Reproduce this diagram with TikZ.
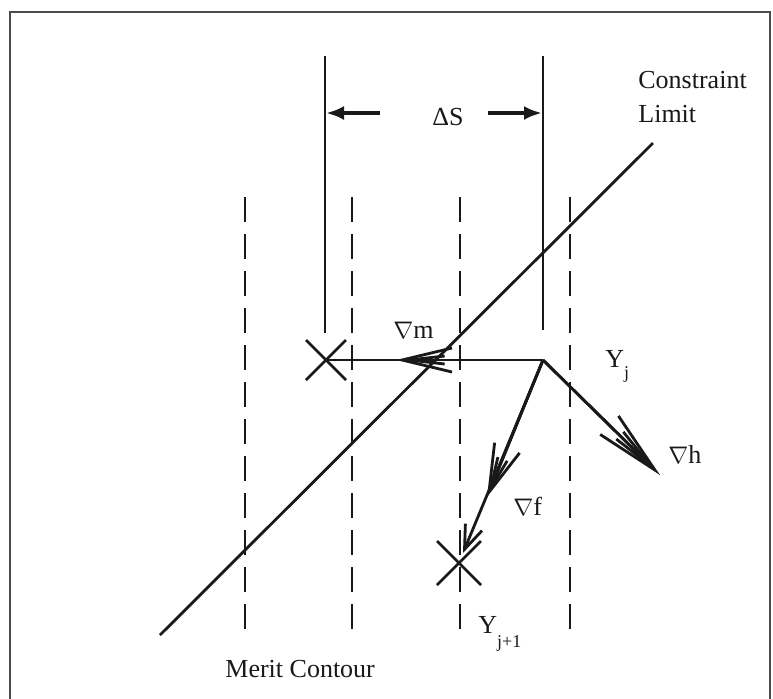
\documentclass[tikz,border=0pt]{standalone}
\usepackage{fontspec}
\setmainfont{Liberation Serif}
\usetikzlibrary{arrows.meta}
\definecolor{ink}{RGB}{25,25,25}
\definecolor{framec}{RGB}{75,75,75}
\begin{document}
\begin{tikzpicture}[x=0.5pt,y=-0.5pt,
  lbl/.style={font=\fontsize{13}{15}\selectfont, inner sep=0pt, text=ink},
  sublbl/.style={font=\fontsize{9}{11}\selectfont},
  mainline/.style={line width=1.4pt, draw=ink},
  contour/.style={line width=1.4pt, draw=ink, dash pattern=on 12.5pt off 6pt},
  xmark/.style={line width=1.4pt, draw=ink},
  dimarrow/.style={line width=2pt, draw=ink, -{Latex[length=9pt,width=7pt]}},
  frameline/.style={line width=1.1pt, draw=framec}
]
\useasboundingbox (0,0) rectangle (773,698);
\clip (0,0) rectangle (773,698);
\fill[white] (0,0) rectangle (773,698);
% frame
\draw[frameline] (10,720) -- (10,12) -- (770,12) -- (770,720);

% merit contours (dashed)
\foreach \x/\n in {245/ca,352/cb,460/cc,570/cd}{
  \coordinate (\n t) at (\x,197);
  \coordinate (\n b) at (\x,637);
  \draw[contour] (\n t) -- (\n b);
}

% key points
\coordinate (Yj) at (543,360);
\coordinate (Xm) at (326,360);
\coordinate (Xf) at (459,563);

% extension lines for Delta S
\coordinate (eLt) at (325,56);
\coordinate (eLb) at (325,333);
\coordinate (eRt) at (543,56);
\coordinate (eRb) at (543,330);
\draw[mainline] (eLt) -- (eLb);
\draw[mainline] (eRt) -- (eRb);

% dimension arrows
\coordinate (dLs) at (380,113);
\coordinate (dLe) at (326,113);
\coordinate (dRs) at (488,113);
\coordinate (dRe) at (542,113);
\draw[dimarrow] (dLs) -- (dLe);
\draw[dimarrow] (dRs) -- (dRe);
\node[lbl, anchor=base west] (dS) at (432,125) {ΔS};

% constraint limit
\coordinate (cl1) at (160,635);
\coordinate (cl2) at (653,143);
\draw[mainline] (cl1) -- (cl2);
\node[lbl, anchor=base west] (cons) at (638,88) {Constraint};
\node[lbl, anchor=base west] (limit) at (638,122) {Limit};

% X marks
\draw[xmark] ([shift={(-20,-20)}]Xm) -- ([shift={(20,20)}]Xm);
\draw[xmark] ([shift={(-20,20)}]Xm) -- ([shift={(20,-20)}]Xm);
\draw[xmark] ([shift={(-22,-22)}]Xf) -- ([shift={(22,22)}]Xf);
\draw[xmark] ([shift={(-22,22)}]Xf) -- ([shift={(22,-22)}]Xf);

% grad m
\coordinate (mtip) at (396,360);
\draw[mainline] (Yj) -- (Xm);
\draw[mainline, -{Straight Barb[length=25pt,width=12pt]}] (Yj) -- (mtip);
\draw[mainline, -{Straight Barb[length=18pt,width=4pt]}] (Yj) -- (mtip);
\node[lbl, anchor=base west] (gm) at (393,338) {$\nabla$m};

% grad h
\coordinate (htip) at (660,475);
\draw[mainline, -{Straight Barb[length=32pt,width=13pt]}] (Yj) -- (htip);
\draw[mainline, -{Straight Barb[length=22pt,width=5pt]}] (Yj) -- (htip);
\node[lbl, anchor=base west] (gh) at (668,463) {$\nabla$h};

% grad f
\coordinate (ftip) at (487,497);
\coordinate (ftip2) at (463,553);
\draw[mainline, -{Straight Barb[length=24pt,width=13.5pt]}] (Yj) -- (ftip);
\draw[mainline, -{Straight Barb[length=16pt,width=5pt]}] (Yj) -- (ftip);
\draw[mainline, -{Straight Barb[length=12pt,width=9pt]}] (Yj) -- (ftip2);
\node[lbl, anchor=base west] (gf) at (513,515) {$\nabla$f};

% labels
\node[lbl, anchor=base west] (lYj) at (605,367) {Y\raisebox{-5.5pt}{\fontsize{9}{11}\selectfont j}};
\node[lbl, anchor=base west] (lYj1) at (478,633) {Y\raisebox{-7pt}{\fontsize{9}{11}\selectfont j+1}};
\node[lbl, anchor=base west] (merit) at (225,677) {Merit Contour};
\end{tikzpicture}
\end{document}
